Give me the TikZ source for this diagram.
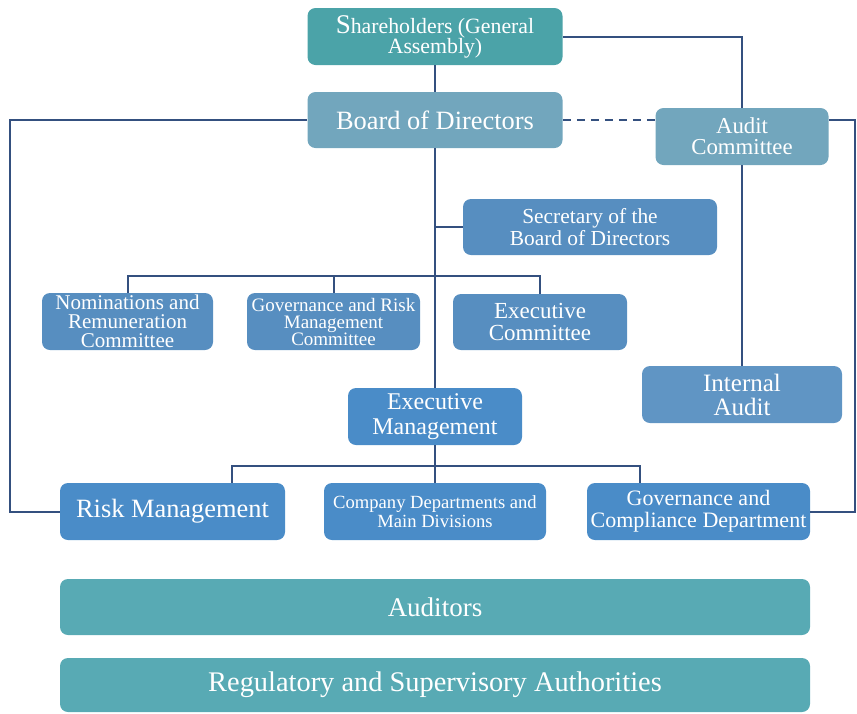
\documentclass[tikz,border=0pt]{standalone}
\usepackage{fontspec}
\setmainfont{Liberation Serif}
\definecolor{teal1}{HTML}{4BA3A8}
\definecolor{teal2}{HTML}{58AAB4}
\definecolor{steel}{HTML}{72A6BD}
\definecolor{blue1}{HTML}{578EC0}
\definecolor{blue2}{HTML}{4A8CC8}
\definecolor{blue3}{HTML}{6095C4}
\definecolor{linec}{HTML}{34507F}
\newcommand{\fs}[2]{\fontsize{#1}{#2}\selectfont}
\tikzset{
    box/.style={rounded corners=4pt, text=white, align=center, inner sep=0pt},
    link/.style={draw=linec, line width=1pt},
}
\begin{document}
\begin{tikzpicture}[x=0.5pt, y=-0.5pt]
    \useasboundingbox (0,0) rectangle (857,713);
    % Top: shareholders, board, audit committee
    \node[box, fill=teal1, minimum width=127.5pt, minimum height=28.5pt, font=\fs{10.9}{10}] (share) at (435,36.5) {{\fs{13.5}{10}S}hareholders (General\\Assembly)};
    \node[box, fill=steel, minimum width=127.5pt, minimum height=28pt, font=\fs{13.2}{14}] (board) at (435,120) {Board of Directors};
    \node[box, fill=steel, minimum width=86.5pt, minimum height=28.5pt, font=\fs{11.4}{10.5}] (audit) at (742,136.5) {Audit\\Committee};
    \node[box, fill=blue1, minimum width=127pt, minimum height=28pt, font=\fs{10.7}{9.5}] (secr) at (590,227) {Secretary of the\\Board of Directors};
    % Committees
    \node[box, fill=blue1, minimum width=85.5pt, minimum height=28.5pt, font=\fs{10.5}{9.5}] (nomin) at (127.5,321.5) {Nominations and\\Remuneration\\Committee};
    \node[box, fill=blue1, minimum width=86.5pt, minimum height=28.5pt, font=\fs{9.5}{8.5}] (govrisk) at (333.5,321.5) {Governance and Risk\\Management\\Committee};
    \node[box, fill=blue1, minimum width=87pt, minimum height=28pt, font=\fs{11.5}{11}] (execcom) at (540,322) {Executive\\Committee};
    \node[box, fill=blue3, minimum width=100pt, minimum height=28.5pt, font=\fs{12.5}{12}] (internal) at (742,394.5) {Internal\\Audit};
    % Management level
    \node[box, fill=blue2, minimum width=87pt, minimum height=28.5pt, font=\fs{12}{12.5}] (execmgmt) at (435,416.5) {Executive\\Management};
    \node[box, fill=blue2, minimum width=112.5pt, minimum height=28.5pt, font=\fs{13.2}{14}] (risk) at (172.5,511.5) {Risk Management};
    \node[box, fill=blue2, minimum width=111pt, minimum height=28.5pt, font=\fs{9.3}{9.5}] (depts) at (435,511.5) {Company Departments and\\Main Divisions};
    \node[box, fill=blue2, minimum width=111.5pt, minimum height=28.5pt, font=\fs{11}{11}] (govcomp) at (698.5,511.5) {Governance and\\Compliance Department};
    % External bodies
    \node[box, fill=teal2, minimum width=375pt, minimum height=28pt, font=\fs{13.5}{14}] (auditors) at (435,607) {Auditors};
    \node[box, fill=teal2, minimum width=375pt, minimum height=27pt, font=\fs{14.2}{14}] (regul) at (435,685) {Regulatory and Supervisory Authorities};
    % Connectors
    \coordinate (lft) at (10,120);
    \coordinate (rgt) at (855,120);
    \coordinate (cbar) at (435,276);
    \coordinate (rdrop) at (232,466);
    \coordinate (gdrop) at (640,466);
    \draw[link] (share) -- (board);
    \draw[link] (share.east) -| (audit.north);
    \draw[link, dashed, dash pattern=on 4pt off 3pt] (board.east) -- (board.east -| audit.west);
    \draw[link] (board.east -| audit.east) -- (rgt) |- (govcomp.east);
    \draw[link] (board.west) -- (lft) |- (risk.west);
    \draw[link] (audit) -- (internal);
    \draw[link] (board) -- (execmgmt);
    \draw[link] (secr.west) -- (secr.west -| cbar);
    \draw[link] (nomin.north) |- (cbar) -| (execcom.north);
    \draw[link] (govrisk.north) -- (govrisk.north |- cbar);
    \draw[link] (execmgmt) -- (depts);
    \draw[link] (rdrop |- risk.north) -- (rdrop) -- (gdrop) -- (gdrop |- govcomp.north);
\end{tikzpicture}
\end{document}
